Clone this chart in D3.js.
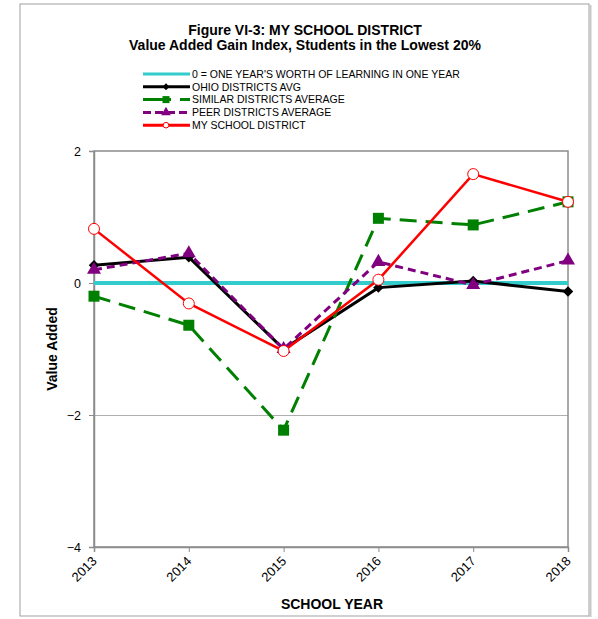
<!DOCTYPE html>
<html><head><meta charset="utf-8">
<script src="https://cdn.jsdelivr.net/npm/d3@7/dist/d3.min.js"></script>
<style>body{margin:0;background:#fff}text{font-family:Arial,"Liberation Sans",sans-serif}</style>
</head><body><svg id="c" width="598" height="619"></svg>
<script>
const years = [2013, 2014, 2015, 2016, 2017, 2018];
const zeroLine = [0, 0, 0, 0, 0, 0];
const ohioAvg = [0.27, 0.39, -1.0, -0.07, 0.03, -0.13];
const similarAvg = [-0.2, -0.64, -2.23, 0.98, 0.88, 1.23];
const peerAvg = [0.2, 0.45, -1.0, 0.32, -0.03, 0.34];
const myDistrict = [0.82, -0.31, -1.03, 0.05, 1.65, 1.23];
const yTicks = [-4, -2, 0, 2];
const titleLines = ["Figure VI-3: MY SCHOOL DISTRICT", "Value Added Gain Index, Students in the Lowest 20%"];
const seriesNames = ["0 = ONE YEAR'S WORTH OF LEARNING IN ONE YEAR", "OHIO DISTRICTS AVG", "SIMILAR DISTRICTS AVERAGE", "PEER DISTRICTS AVERAGE", "MY SCHOOL DISTRICT"];

const svg = d3.select("#c");
const L = 94, R = 568, T = 151, B = 547;
const x = d3.scaleLinear().domain([2013, 2018]).range([L, R]);
const y = d3.scaleLinear().domain([-4, 2]).range([B, T]);
const FONT = "Arial, 'Liberation Sans', sans-serif";

// outer frame
svg.append("rect").attr("x", 20).attr("y", 4).attr("width", 569).attr("height", 612)
  .attr("fill", "#fff").attr("stroke", "#a0a0a0").attr("stroke-width", 1);
svg.append("line").attr("x1", 590.5).attr("x2", 590.5).attr("y1", 5).attr("y2", 617).attr("stroke", "#c8c8c8").attr("stroke-width", 2);

// title
svg.selectAll(".title").data(titleLines).join("text")
  .attr("x", 305).attr("y", (d, i) => 35 + i * 14.5)
  .attr("text-anchor", "middle").attr("font-weight", "bold").attr("font-size", 14).text(d => d);

// gridlines
svg.append("g").selectAll("line").data(yTicks.filter(t => t > -4 && t < 2)).join("line")
  .attr("x1", L).attr("x2", R).attr("y1", d => y(d) + 0.5).attr("y2", d => y(d) + 0.5)
  .attr("stroke", "#b0b0b0").attr("stroke-width", 1);

// plot frame
svg.append("rect").attr("x", L).attr("y", T).attr("width", R - L).attr("height", B - T)
  .attr("fill", "none").attr("stroke", "#8c8c8c").attr("stroke-width", 1.5);

// axes
const yAxis = d3.axisLeft(y).tickValues(yTicks).tickSize(5).tickPadding(8).tickFormat(d3.format("d"));
const gy = svg.append("g").attr("transform", `translate(${L},0)`).call(yAxis);
gy.select(".domain").attr("stroke", "#8c8c8c").attr("stroke-width", 1.5);
gy.selectAll(".tick line").attr("stroke", "#8c8c8c");
gy.selectAll("text").attr("font-size", 12.5).attr("fill", "#000").attr("font-family", FONT);

const xAxis = d3.axisBottom(x).tickValues(years).tickSize(5).tickFormat(d3.format("d"));
const gx = svg.append("g").attr("transform", `translate(0,${B})`).call(xAxis);
gx.select(".domain").attr("stroke", "#8c8c8c").attr("stroke-width", 1.5);
gx.selectAll(".tick line").attr("stroke", "#8c8c8c");
gx.selectAll("text").attr("font-size", 13).attr("fill", "#000").attr("font-family", FONT)
  .attr("text-anchor", "end").attr("dy", "0").attr("y", 0).attr("x", 0)
  .attr("transform", "translate(3,15) rotate(-45)");

svg.append("text").attr("x", 332).attr("y", 609).attr("text-anchor", "middle")
  .attr("font-weight", "bold").attr("font-size", 14).text("SCHOOL YEAR");
svg.append("text").attr("transform", `translate(57,${(T + B) / 2}) rotate(-90)`).attr("text-anchor", "middle")
  .attr("font-weight", "bold").attr("font-size", 14).text("Value Added");

const series = [
  {vals: zeroLine, color: "#33CCCC", w: 4, dash: null, marker: null},
  {vals: ohioAvg, color: "#000000", w: 3, dash: null, marker: "diamond"},
  {vals: similarAvg, color: "#008000", w: 3, dash: "17,9", marker: "square"},
  {vals: peerAvg, color: "#800080", w: 3, dash: "8,5", marker: "triangle"},
  {vals: myDistrict, color: "#FF0000", w: 2.5, dash: null, marker: "circle"}
];
const line = d3.line().x((d, i) => x(years[i])).y(d => y(d));

function drawMarker(g, type, color, cx, cy, big) {
  if (type === "diamond") {
    g.append("path").attr("d", d3.symbol().type(d3.symbolDiamond2).size(big ? 70 : 30)())
      .attr("transform", `translate(${cx},${cy})`).attr("fill", color);
  } else if (type === "square") {
    const a = big ? 11 : 7;
    g.append("rect").attr("x", cx - a / 2).attr("y", cy - a / 2).attr("width", a).attr("height", a).attr("fill", color);
  } else if (type === "triangle") {
    g.append("path").attr("d", d3.symbol().type(d3.symbolTriangle).size(big ? 85 : 40)())
      .attr("transform", `translate(${cx},${cy})`).attr("fill", color);
  } else if (type === "circle") {
    g.append("circle").attr("cx", cx).attr("cy", cy).attr("r", big ? 5.5 : 2.8)
      .attr("fill", "#fff").attr("stroke", color).attr("stroke-width", 1);
  }
}

series.forEach(s => {
  const g = svg.append("g");
  g.append("path").datum(s.vals).attr("d", line).attr("fill", "none")
    .attr("stroke", s.color).attr("stroke-width", s.w).attr("stroke-dasharray", s.dash);
  if (s.marker) s.vals.forEach((v, i) => drawMarker(g, s.marker, s.color, x(years[i]), y(v), true));
});

// legend
const lg = svg.append("g");
series.forEach((s, i) => {
  const yy = 74 + i * 12.8;
  lg.append("line").attr("x1", 143).attr("x2", 190).attr("y1", yy).attr("y2", yy)
    .attr("stroke", s.color).attr("stroke-width", 3)
    .attr("stroke-dasharray", s.dash ? (s.marker === "square" ? "28,9,12" : "8,4") : null);
  if (s.marker) drawMarker(lg, s.marker, s.color, 166, yy, false);
  lg.append("text").attr("x", 192).attr("y", yy + 3.7).attr("font-size", 10.5).text(seriesNames[i]);
});
</script></body></html>
